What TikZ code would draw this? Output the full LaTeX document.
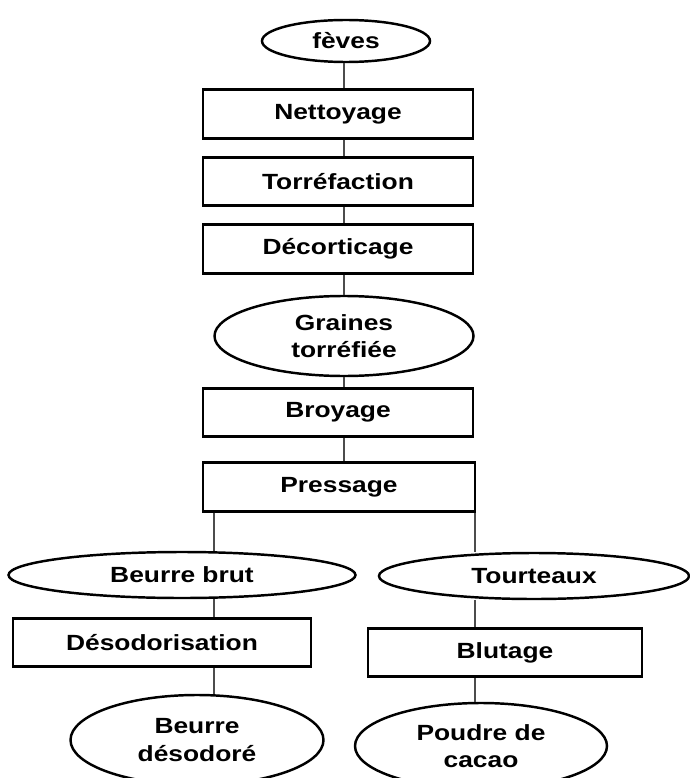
\documentclass[tikz,border=0pt]{standalone}
\usepackage{fontspec}
\setmainfont{Liberation Sans}[FakeStretch=1.2]
\usetikzlibrary{shapes.geometric}

\begin{document}
\begin{tikzpicture}[
    every node/.style={font=\fontsize{12.5}{15.5}\selectfont\bfseries, align=center, inner sep=0pt},
    etape/.style={draw, line width=1.5pt, minimum height=0.97cm},
    produit/.style={draw, ellipse, line width=1.4pt},
    lien/.style={draw=black!70, line width=1.6pt}
  ]
    \useasboundingbox (0,0) rectangle (13.8,-15.56);

    % axes des traits verticaux
    \coordinate (axe) at (6.88,0);
    \coordinate (axeg) at (4.28,0);
    \coordinate (axed) at (9.5,0);

    % colonne centrale
    \node[produit, minimum width=3.36cm, minimum height=0.84cm] (feves) at (6.92,-0.82) {fèves};
    \node[etape, minimum width=5.4cm] (nett) at (6.76,-2.28) {Nettoyage};
    \node[etape, minimum width=5.4cm] (torr) at (6.76,-3.63) {Torréfaction};
    \node[etape, minimum width=5.4cm] (deco) at (6.76,-4.98) {Décorticage};
    \node[produit, minimum width=5.18cm, minimum height=1.6cm] (graines) at (6.88,-6.72) {Graines\\torréfiée};
    \node[etape, minimum width=5.4cm] (broy) at (6.76,-8.25) {Broyage};
    \node[etape, minimum width=5.44cm] (press) at (6.78,-9.74) {Pressage};

    % branche gauche
    \node[produit, minimum width=6.94cm, minimum height=0.92cm] (brut) at (3.64,-11.5) {Beurre brut};
    \node[etape, minimum width=5.96cm] (desod) at (3.24,-12.85) {Désodorisation};
    \node[produit, minimum width=5.06cm, minimum height=1.8cm] (bdesod) at (3.94,-14.8) {Beurre\\désodoré};

    % branche droite
    \node[produit, minimum width=6.2cm, minimum height=0.92cm] (tourt) at (10.68,-11.52) {Tourteaux};
    \node[etape, minimum width=5.48cm] (blut) at (10.1,-13.05) {Blutage};
    \node[produit, minimum width=5.04cm, minimum height=1.72cm] (poudre) at (9.62,-14.92) {Poudre de\\cacao};

    % traits
    \draw[lien] (feves.south -| axe) -- (nett.north -| axe);
    \draw[lien] (nett.south -| axe) -- (torr.north -| axe);
    \draw[lien] (torr.south -| axe) -- (deco.north -| axe);
    \draw[lien] (deco.south -| axe) -- (graines.north -| axe);
    \draw[lien] (graines.south -| axe) -- (broy.north -| axe);
    \draw[lien] (broy.south -| axe) -- (press.north -| axe);

    \draw[lien] (press.south -| axeg) -- (brut.north -| axeg);
    \draw[lien] (brut.south -| axeg) -- (desod.north -| axeg);
    \draw[lien] (desod.south -| axeg) -- (bdesod.north -| axeg);

    \draw[lien] (press.south -| axed) -- (tourt.north -| axed);
    \draw[lien] (tourt.south -| axed) -- (blut.north -| axed);
    \draw[lien] (blut.south -| axed) -- (poudre.north -| axed);
\end{tikzpicture}
\end{document}
